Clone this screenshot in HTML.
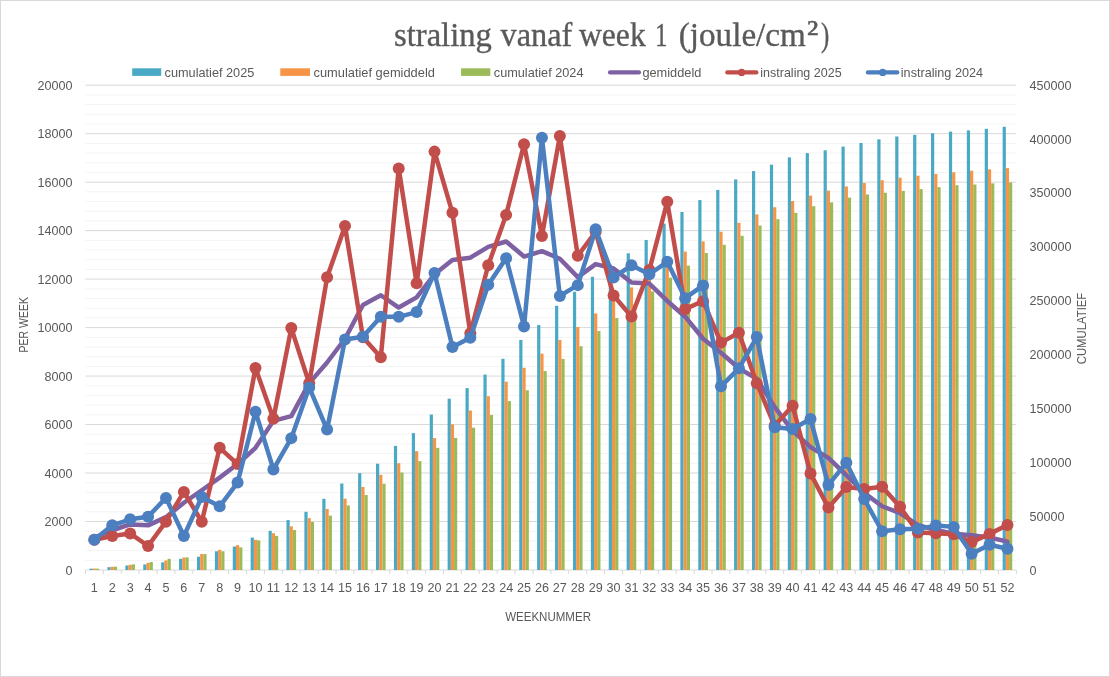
<!DOCTYPE html>
<html lang="nl">
<head>
<meta charset="utf-8">
<title>straling vanaf week 1 (joule/cm²)</title>
<style>
html,body{margin:0;padding:0;background:#fff;}
body{width:1110px;height:677px;overflow:hidden;}
svg{display:block;}
.t{font-family:"Liberation Sans",sans-serif;font-size:12.6px;fill:#595959;}
.ttl{font-family:"Liberation Serif",serif;font-size:33px;fill:#595959;stroke:#595959;stroke-width:0.35px;}
</style>
</head>
<body>
<svg width="1110" height="677" viewBox="0 0 1110 677">
<rect x="0" y="0" width="1110" height="677" fill="#ffffff"/>
<rect x="0.5" y="0.5" width="1109" height="676" fill="none" stroke="#d9d9d9" stroke-width="1"/>
<g stroke="#f3f3f3" stroke-width="1">
<line x1="85.4" y1="560.30" x2="1016.4" y2="560.30"/>
<line x1="85.4" y1="550.61" x2="1016.4" y2="550.61"/>
<line x1="85.4" y1="540.91" x2="1016.4" y2="540.91"/>
<line x1="85.4" y1="531.22" x2="1016.4" y2="531.22"/>
<line x1="85.4" y1="511.82" x2="1016.4" y2="511.82"/>
<line x1="85.4" y1="502.13" x2="1016.4" y2="502.13"/>
<line x1="85.4" y1="492.43" x2="1016.4" y2="492.43"/>
<line x1="85.4" y1="482.74" x2="1016.4" y2="482.74"/>
<line x1="85.4" y1="463.34" x2="1016.4" y2="463.34"/>
<line x1="85.4" y1="453.65" x2="1016.4" y2="453.65"/>
<line x1="85.4" y1="443.95" x2="1016.4" y2="443.95"/>
<line x1="85.4" y1="434.26" x2="1016.4" y2="434.26"/>
<line x1="85.4" y1="414.86" x2="1016.4" y2="414.86"/>
<line x1="85.4" y1="405.17" x2="1016.4" y2="405.17"/>
<line x1="85.4" y1="395.47" x2="1016.4" y2="395.47"/>
<line x1="85.4" y1="385.78" x2="1016.4" y2="385.78"/>
<line x1="85.4" y1="366.38" x2="1016.4" y2="366.38"/>
<line x1="85.4" y1="356.69" x2="1016.4" y2="356.69"/>
<line x1="85.4" y1="346.99" x2="1016.4" y2="346.99"/>
<line x1="85.4" y1="337.30" x2="1016.4" y2="337.30"/>
<line x1="85.4" y1="317.90" x2="1016.4" y2="317.90"/>
<line x1="85.4" y1="308.21" x2="1016.4" y2="308.21"/>
<line x1="85.4" y1="298.51" x2="1016.4" y2="298.51"/>
<line x1="85.4" y1="288.82" x2="1016.4" y2="288.82"/>
<line x1="85.4" y1="269.42" x2="1016.4" y2="269.42"/>
<line x1="85.4" y1="259.73" x2="1016.4" y2="259.73"/>
<line x1="85.4" y1="250.03" x2="1016.4" y2="250.03"/>
<line x1="85.4" y1="240.34" x2="1016.4" y2="240.34"/>
<line x1="85.4" y1="220.94" x2="1016.4" y2="220.94"/>
<line x1="85.4" y1="211.25" x2="1016.4" y2="211.25"/>
<line x1="85.4" y1="201.55" x2="1016.4" y2="201.55"/>
<line x1="85.4" y1="191.86" x2="1016.4" y2="191.86"/>
<line x1="85.4" y1="172.46" x2="1016.4" y2="172.46"/>
<line x1="85.4" y1="162.77" x2="1016.4" y2="162.77"/>
<line x1="85.4" y1="153.07" x2="1016.4" y2="153.07"/>
<line x1="85.4" y1="143.38" x2="1016.4" y2="143.38"/>
<line x1="85.4" y1="123.98" x2="1016.4" y2="123.98"/>
<line x1="85.4" y1="114.29" x2="1016.4" y2="114.29"/>
<line x1="85.4" y1="104.59" x2="1016.4" y2="104.59"/>
<line x1="85.4" y1="94.90" x2="1016.4" y2="94.90"/>
</g>
<g stroke="#d9d9d9" stroke-width="1">
<line x1="85.4" y1="570.00" x2="1016.4" y2="570.00"/>
<line x1="85.4" y1="521.52" x2="1016.4" y2="521.52"/>
<line x1="85.4" y1="473.04" x2="1016.4" y2="473.04"/>
<line x1="85.4" y1="424.56" x2="1016.4" y2="424.56"/>
<line x1="85.4" y1="376.08" x2="1016.4" y2="376.08"/>
<line x1="85.4" y1="327.60" x2="1016.4" y2="327.60"/>
<line x1="85.4" y1="279.12" x2="1016.4" y2="279.12"/>
<line x1="85.4" y1="230.64" x2="1016.4" y2="230.64"/>
<line x1="85.4" y1="182.16" x2="1016.4" y2="182.16"/>
<line x1="85.4" y1="133.68" x2="1016.4" y2="133.68"/>
<line x1="85.4" y1="85.20" x2="1016.4" y2="85.20"/>
<line x1="85.40" y1="570.0" x2="85.40" y2="574.0"/>
<line x1="103.30" y1="570.0" x2="103.30" y2="574.0"/>
<line x1="121.21" y1="570.0" x2="121.21" y2="574.0"/>
<line x1="139.11" y1="570.0" x2="139.11" y2="574.0"/>
<line x1="157.02" y1="570.0" x2="157.02" y2="574.0"/>
<line x1="174.92" y1="570.0" x2="174.92" y2="574.0"/>
<line x1="192.82" y1="570.0" x2="192.82" y2="574.0"/>
<line x1="210.73" y1="570.0" x2="210.73" y2="574.0"/>
<line x1="228.63" y1="570.0" x2="228.63" y2="574.0"/>
<line x1="246.53" y1="570.0" x2="246.53" y2="574.0"/>
<line x1="264.44" y1="570.0" x2="264.44" y2="574.0"/>
<line x1="282.34" y1="570.0" x2="282.34" y2="574.0"/>
<line x1="300.25" y1="570.0" x2="300.25" y2="574.0"/>
<line x1="318.15" y1="570.0" x2="318.15" y2="574.0"/>
<line x1="336.05" y1="570.0" x2="336.05" y2="574.0"/>
<line x1="353.96" y1="570.0" x2="353.96" y2="574.0"/>
<line x1="371.86" y1="570.0" x2="371.86" y2="574.0"/>
<line x1="389.77" y1="570.0" x2="389.77" y2="574.0"/>
<line x1="407.67" y1="570.0" x2="407.67" y2="574.0"/>
<line x1="425.57" y1="570.0" x2="425.57" y2="574.0"/>
<line x1="443.48" y1="570.0" x2="443.48" y2="574.0"/>
<line x1="461.38" y1="570.0" x2="461.38" y2="574.0"/>
<line x1="479.28" y1="570.0" x2="479.28" y2="574.0"/>
<line x1="497.19" y1="570.0" x2="497.19" y2="574.0"/>
<line x1="515.09" y1="570.0" x2="515.09" y2="574.0"/>
<line x1="533.00" y1="570.0" x2="533.00" y2="574.0"/>
<line x1="550.90" y1="570.0" x2="550.90" y2="574.0"/>
<line x1="568.80" y1="570.0" x2="568.80" y2="574.0"/>
<line x1="586.71" y1="570.0" x2="586.71" y2="574.0"/>
<line x1="604.61" y1="570.0" x2="604.61" y2="574.0"/>
<line x1="622.52" y1="570.0" x2="622.52" y2="574.0"/>
<line x1="640.42" y1="570.0" x2="640.42" y2="574.0"/>
<line x1="658.32" y1="570.0" x2="658.32" y2="574.0"/>
<line x1="676.23" y1="570.0" x2="676.23" y2="574.0"/>
<line x1="694.13" y1="570.0" x2="694.13" y2="574.0"/>
<line x1="712.03" y1="570.0" x2="712.03" y2="574.0"/>
<line x1="729.94" y1="570.0" x2="729.94" y2="574.0"/>
<line x1="747.84" y1="570.0" x2="747.84" y2="574.0"/>
<line x1="765.75" y1="570.0" x2="765.75" y2="574.0"/>
<line x1="783.65" y1="570.0" x2="783.65" y2="574.0"/>
<line x1="801.55" y1="570.0" x2="801.55" y2="574.0"/>
<line x1="819.46" y1="570.0" x2="819.46" y2="574.0"/>
<line x1="837.36" y1="570.0" x2="837.36" y2="574.0"/>
<line x1="855.27" y1="570.0" x2="855.27" y2="574.0"/>
<line x1="873.17" y1="570.0" x2="873.17" y2="574.0"/>
<line x1="891.07" y1="570.0" x2="891.07" y2="574.0"/>
<line x1="908.98" y1="570.0" x2="908.98" y2="574.0"/>
<line x1="926.88" y1="570.0" x2="926.88" y2="574.0"/>
<line x1="944.78" y1="570.0" x2="944.78" y2="574.0"/>
<line x1="962.69" y1="570.0" x2="962.69" y2="574.0"/>
<line x1="980.59" y1="570.0" x2="980.59" y2="574.0"/>
<line x1="998.50" y1="570.0" x2="998.50" y2="574.0"/>
<line x1="1016.40" y1="570.0" x2="1016.40" y2="574.0"/>
</g>
<g fill="#4aa9c4">
<rect x="89.55" y="568.65" width="3.20" height="1.35"/>
<rect x="107.46" y="567.15" width="3.20" height="2.85"/>
<rect x="125.36" y="565.52" width="3.20" height="4.48"/>
<rect x="143.26" y="564.45" width="3.20" height="5.55"/>
<rect x="161.17" y="562.30" width="3.20" height="7.70"/>
<rect x="179.07" y="558.84" width="3.20" height="11.16"/>
<rect x="196.97" y="556.69" width="3.20" height="13.31"/>
<rect x="214.88" y="551.26" width="3.20" height="18.74"/>
<rect x="232.78" y="546.55" width="3.20" height="23.45"/>
<rect x="250.69" y="537.57" width="3.20" height="32.43"/>
<rect x="268.59" y="530.85" width="3.20" height="39.15"/>
<rect x="286.49" y="520.09" width="3.20" height="49.91"/>
<rect x="304.40" y="511.80" width="3.20" height="58.20"/>
<rect x="322.30" y="498.79" width="3.20" height="71.21"/>
<rect x="340.21" y="483.51" width="3.20" height="86.49"/>
<rect x="358.11" y="473.16" width="3.20" height="96.84"/>
<rect x="376.01" y="463.70" width="3.20" height="106.30"/>
<rect x="393.92" y="445.86" width="3.20" height="124.14"/>
<rect x="411.82" y="433.12" width="3.20" height="136.88"/>
<rect x="429.72" y="414.52" width="3.20" height="155.48"/>
<rect x="447.63" y="398.65" width="3.20" height="171.35"/>
<rect x="465.53" y="388.13" width="3.20" height="181.87"/>
<rect x="483.44" y="374.59" width="3.20" height="195.41"/>
<rect x="501.34" y="358.80" width="3.20" height="211.20"/>
<rect x="519.24" y="339.88" width="3.20" height="230.12"/>
<rect x="537.15" y="325.04" width="3.20" height="244.96"/>
<rect x="555.05" y="305.75" width="3.20" height="264.25"/>
<rect x="572.96" y="291.78" width="3.20" height="278.22"/>
<rect x="590.86" y="276.75" width="3.20" height="293.25"/>
<rect x="608.76" y="264.56" width="3.20" height="305.44"/>
<rect x="626.67" y="253.29" width="3.20" height="316.71"/>
<rect x="644.57" y="239.95" width="3.20" height="330.05"/>
<rect x="662.48" y="223.59" width="3.20" height="346.41"/>
<rect x="680.38" y="211.98" width="3.20" height="358.02"/>
<rect x="698.28" y="200.04" width="3.20" height="369.96"/>
<rect x="716.19" y="189.93" width="3.20" height="380.07"/>
<rect x="734.09" y="179.38" width="3.20" height="390.62"/>
<rect x="751.99" y="171.08" width="3.20" height="398.92"/>
<rect x="769.90" y="164.67" width="3.20" height="405.33"/>
<rect x="787.80" y="157.37" width="3.20" height="412.63"/>
<rect x="805.71" y="153.08" width="3.20" height="416.92"/>
<rect x="823.61" y="150.30" width="3.20" height="419.70"/>
<rect x="841.51" y="146.62" width="3.20" height="423.38"/>
<rect x="859.42" y="143.02" width="3.20" height="426.98"/>
<rect x="877.32" y="139.32" width="3.20" height="430.68"/>
<rect x="895.23" y="136.51" width="3.20" height="433.49"/>
<rect x="913.13" y="134.85" width="3.20" height="435.15"/>
<rect x="931.03" y="133.22" width="3.20" height="436.78"/>
<rect x="948.94" y="131.64" width="3.20" height="438.36"/>
<rect x="966.84" y="130.40" width="3.20" height="439.60"/>
<rect x="984.74" y="128.80" width="3.20" height="441.20"/>
<rect x="1002.65" y="126.79" width="3.20" height="443.21"/>
</g>
<g fill="#f59545">
<rect x="92.75" y="568.56" width="3.20" height="1.44"/>
<rect x="110.66" y="566.80" width="3.20" height="3.20"/>
<rect x="128.56" y="564.79" width="3.20" height="5.21"/>
<rect x="146.46" y="562.81" width="3.20" height="7.19"/>
<rect x="164.37" y="560.47" width="3.20" height="9.53"/>
<rect x="182.27" y="557.50" width="3.20" height="12.50"/>
<rect x="200.18" y="553.97" width="3.20" height="16.03"/>
<rect x="218.08" y="549.88" width="3.20" height="20.12"/>
<rect x="235.98" y="545.20" width="3.20" height="24.80"/>
<rect x="253.89" y="539.79" width="3.20" height="30.21"/>
<rect x="271.79" y="533.19" width="3.20" height="36.81"/>
<rect x="289.69" y="526.38" width="3.20" height="43.62"/>
<rect x="307.60" y="518.11" width="3.20" height="51.89"/>
<rect x="325.50" y="508.93" width="3.20" height="61.07"/>
<rect x="343.41" y="498.70" width="3.20" height="71.30"/>
<rect x="361.31" y="486.97" width="3.20" height="83.03"/>
<rect x="379.21" y="474.82" width="3.20" height="95.18"/>
<rect x="397.12" y="463.21" width="3.20" height="106.79"/>
<rect x="415.02" y="451.15" width="3.20" height="118.85"/>
<rect x="432.92" y="438.06" width="3.20" height="131.94"/>
<rect x="450.83" y="424.34" width="3.20" height="145.66"/>
<rect x="468.73" y="410.53" width="3.20" height="159.47"/>
<rect x="486.64" y="396.23" width="3.20" height="173.77"/>
<rect x="504.54" y="381.69" width="3.20" height="188.31"/>
<rect x="522.44" y="367.83" width="3.20" height="202.17"/>
<rect x="540.35" y="353.72" width="3.20" height="216.28"/>
<rect x="558.25" y="339.95" width="3.20" height="230.05"/>
<rect x="576.16" y="326.99" width="3.20" height="243.01"/>
<rect x="594.06" y="313.46" width="3.20" height="256.54"/>
<rect x="611.96" y="300.12" width="3.20" height="269.88"/>
<rect x="629.87" y="287.40" width="3.20" height="282.60"/>
<rect x="647.77" y="274.73" width="3.20" height="295.27"/>
<rect x="665.67" y="262.82" width="3.20" height="307.18"/>
<rect x="683.58" y="251.61" width="3.20" height="318.39"/>
<rect x="701.48" y="241.38" width="3.20" height="328.62"/>
<rect x="719.39" y="231.77" width="3.20" height="338.23"/>
<rect x="737.29" y="222.85" width="3.20" height="347.15"/>
<rect x="755.19" y="214.39" width="3.20" height="355.61"/>
<rect x="773.10" y="207.18" width="3.20" height="362.82"/>
<rect x="791.00" y="201.03" width="3.20" height="368.97"/>
<rect x="808.91" y="195.59" width="3.20" height="374.41"/>
<rect x="826.81" y="190.63" width="3.20" height="379.37"/>
<rect x="844.71" y="186.43" width="3.20" height="383.57"/>
<rect x="862.62" y="183.02" width="3.20" height="386.98"/>
<rect x="880.52" y="180.20" width="3.20" height="389.80"/>
<rect x="898.42" y="177.68" width="3.20" height="392.32"/>
<rect x="916.33" y="175.70" width="3.20" height="394.30"/>
<rect x="934.23" y="173.93" width="3.20" height="396.07"/>
<rect x="952.14" y="172.32" width="3.20" height="397.68"/>
<rect x="970.04" y="170.79" width="3.20" height="399.21"/>
<rect x="987.94" y="169.35" width="3.20" height="400.65"/>
<rect x="1005.85" y="168.09" width="3.20" height="401.91"/>
</g>
<g fill="#9bbb59">
<rect x="95.95" y="568.65" width="3.20" height="1.35"/>
<rect x="113.86" y="566.67" width="3.20" height="3.33"/>
<rect x="131.76" y="564.42" width="3.20" height="5.58"/>
<rect x="149.66" y="562.05" width="3.20" height="7.95"/>
<rect x="167.57" y="558.84" width="3.20" height="11.16"/>
<rect x="185.47" y="557.33" width="3.20" height="12.67"/>
<rect x="203.38" y="554.09" width="3.20" height="15.91"/>
<rect x="221.28" y="551.26" width="3.20" height="18.74"/>
<rect x="239.18" y="547.38" width="3.20" height="22.62"/>
<rect x="257.09" y="540.35" width="3.20" height="29.65"/>
<rect x="274.99" y="535.87" width="3.20" height="34.13"/>
<rect x="292.89" y="530.01" width="3.20" height="39.99"/>
<rect x="310.80" y="521.90" width="3.20" height="48.10"/>
<rect x="328.70" y="515.65" width="3.20" height="54.35"/>
<rect x="346.61" y="505.41" width="3.20" height="64.59"/>
<rect x="364.51" y="495.04" width="3.20" height="74.96"/>
<rect x="382.41" y="483.79" width="3.20" height="86.21"/>
<rect x="400.32" y="472.54" width="3.20" height="97.46"/>
<rect x="418.22" y="461.08" width="3.20" height="108.92"/>
<rect x="436.12" y="447.88" width="3.20" height="122.12"/>
<rect x="454.03" y="437.97" width="3.20" height="132.03"/>
<rect x="471.93" y="427.64" width="3.20" height="142.36"/>
<rect x="489.84" y="414.96" width="3.20" height="155.04"/>
<rect x="507.74" y="401.10" width="3.20" height="168.90"/>
<rect x="525.64" y="390.27" width="3.20" height="179.73"/>
<rect x="543.55" y="371.06" width="3.20" height="198.94"/>
<rect x="561.45" y="358.88" width="3.20" height="211.12"/>
<rect x="579.36" y="346.22" width="3.20" height="223.78"/>
<rect x="597.26" y="331.08" width="3.20" height="238.92"/>
<rect x="615.16" y="318.08" width="3.20" height="251.92"/>
<rect x="633.07" y="304.54" width="3.20" height="265.46"/>
<rect x="650.97" y="291.40" width="3.20" height="278.60"/>
<rect x="668.88" y="277.70" width="3.20" height="292.30"/>
<rect x="686.78" y="265.62" width="3.20" height="304.38"/>
<rect x="704.68" y="252.97" width="3.20" height="317.03"/>
<rect x="722.59" y="244.81" width="3.20" height="325.19"/>
<rect x="740.49" y="235.84" width="3.20" height="334.16"/>
<rect x="758.39" y="225.49" width="3.20" height="344.51"/>
<rect x="776.30" y="219.14" width="3.20" height="350.86"/>
<rect x="794.20" y="212.87" width="3.20" height="357.13"/>
<rect x="812.11" y="206.17" width="3.20" height="363.83"/>
<rect x="830.01" y="202.38" width="3.20" height="367.62"/>
<rect x="847.91" y="197.62" width="3.20" height="372.38"/>
<rect x="865.82" y="194.47" width="3.20" height="375.53"/>
<rect x="883.72" y="192.75" width="3.20" height="377.25"/>
<rect x="901.62" y="190.94" width="3.20" height="379.06"/>
<rect x="919.53" y="189.11" width="3.20" height="380.89"/>
<rect x="937.43" y="187.14" width="3.20" height="382.86"/>
<rect x="955.34" y="185.22" width="3.20" height="384.78"/>
<rect x="973.24" y="184.50" width="3.20" height="385.50"/>
<rect x="991.14" y="183.37" width="3.20" height="386.63"/>
<rect x="1009.05" y="182.43" width="3.20" height="387.57"/>
</g>
<polyline points="94.35,537.52 112.26,530.25 130.16,524.43 148.06,525.33 165.97,517.16 183.87,502.73 201.78,490.25 219.68,477.65 237.58,464.07 255.49,447.83 273.39,420.88 291.29,416.08 309.20,383.11 327.10,362.51 345.01,338.75 362.91,304.94 380.81,295.24 398.72,307.58 416.62,297.40 434.52,274.27 452.43,259.97 470.33,257.69 488.24,246.88 506.14,241.48 524.04,256.58 541.95,251.17 559.85,258.76 577.76,277.18 595.66,264.09 613.56,268.45 631.47,282.51 649.37,283.60 667.27,300.94 685.18,316.69 703.08,338.75 720.99,352.81 738.89,368.32 756.79,378.75 774.70,407.11 792.60,430.86 810.51,447.10 828.41,457.89 846.31,475.22 864.22,492.92 882.12,506.25 900.02,513.04 917.93,525.16 935.83,530.00 953.74,533.64 971.64,535.34 989.54,537.52 1007.45,541.64" fill="none" stroke="#7e61a3" stroke-width="4.5" stroke-linejoin="round" stroke-linecap="round"/>
<polyline points="94.35,539.70 112.26,536.06 130.16,533.40 148.06,546.00 165.97,521.69 183.87,491.95 201.78,521.69 219.68,447.83 237.58,464.07 255.49,367.91 273.39,418.74 291.29,328.08 309.20,383.35 327.10,277.30 345.01,226.08 362.91,337.30 380.81,357.17 398.72,168.46 416.62,283.36 434.52,151.62 452.43,212.80 470.33,333.34 488.24,265.30 506.14,214.88 524.04,144.27 541.95,235.92 559.85,136.06 577.76,255.75 595.66,231.85 613.56,295.53 631.47,316.50 649.37,269.91 667.27,201.79 685.18,308.94 703.08,301.18 720.99,342.63 738.89,332.69 756.79,383.23 774.70,425.77 792.60,405.65 810.51,473.45 828.41,507.61 846.31,487.10 864.22,488.92 882.12,486.86 900.02,506.85 917.93,532.57 935.83,533.37 953.74,534.37 971.64,542.12 989.54,533.88 1007.45,524.94" fill="none" stroke="#c24e4b" stroke-width="4.5" stroke-linejoin="round" stroke-linecap="round"/>
<g fill="#c24e4b">
<circle cx="94.35" cy="539.70" r="6.0"/>
<circle cx="112.26" cy="536.06" r="6.0"/>
<circle cx="130.16" cy="533.40" r="6.0"/>
<circle cx="148.06" cy="546.00" r="6.0"/>
<circle cx="165.97" cy="521.69" r="6.0"/>
<circle cx="183.87" cy="491.95" r="6.0"/>
<circle cx="201.78" cy="521.69" r="6.0"/>
<circle cx="219.68" cy="447.83" r="6.0"/>
<circle cx="237.58" cy="464.07" r="6.0"/>
<circle cx="255.49" cy="367.91" r="6.0"/>
<circle cx="273.39" cy="418.74" r="6.0"/>
<circle cx="291.29" cy="328.08" r="6.0"/>
<circle cx="309.20" cy="383.35" r="6.0"/>
<circle cx="327.10" cy="277.30" r="6.0"/>
<circle cx="345.01" cy="226.08" r="6.0"/>
<circle cx="362.91" cy="337.30" r="6.0"/>
<circle cx="380.81" cy="357.17" r="6.0"/>
<circle cx="398.72" cy="168.46" r="6.0"/>
<circle cx="416.62" cy="283.36" r="6.0"/>
<circle cx="434.52" cy="151.62" r="6.0"/>
<circle cx="452.43" cy="212.80" r="6.0"/>
<circle cx="470.33" cy="333.34" r="6.0"/>
<circle cx="488.24" cy="265.30" r="6.0"/>
<circle cx="506.14" cy="214.88" r="6.0"/>
<circle cx="524.04" cy="144.27" r="6.0"/>
<circle cx="541.95" cy="235.92" r="6.0"/>
<circle cx="559.85" cy="136.06" r="6.0"/>
<circle cx="577.76" cy="255.75" r="6.0"/>
<circle cx="595.66" cy="231.85" r="6.0"/>
<circle cx="613.56" cy="295.53" r="6.0"/>
<circle cx="631.47" cy="316.50" r="6.0"/>
<circle cx="649.37" cy="269.91" r="6.0"/>
<circle cx="667.27" cy="201.79" r="6.0"/>
<circle cx="685.18" cy="308.94" r="6.0"/>
<circle cx="703.08" cy="301.18" r="6.0"/>
<circle cx="720.99" cy="342.63" r="6.0"/>
<circle cx="738.89" cy="332.69" r="6.0"/>
<circle cx="756.79" cy="383.23" r="6.0"/>
<circle cx="774.70" cy="425.77" r="6.0"/>
<circle cx="792.60" cy="405.65" r="6.0"/>
<circle cx="810.51" cy="473.45" r="6.0"/>
<circle cx="828.41" cy="507.61" r="6.0"/>
<circle cx="846.31" cy="487.10" r="6.0"/>
<circle cx="864.22" cy="488.92" r="6.0"/>
<circle cx="882.12" cy="486.86" r="6.0"/>
<circle cx="900.02" cy="506.85" r="6.0"/>
<circle cx="917.93" cy="532.57" r="6.0"/>
<circle cx="935.83" cy="533.37" r="6.0"/>
<circle cx="953.74" cy="534.37" r="6.0"/>
<circle cx="971.64" cy="542.12" r="6.0"/>
<circle cx="989.54" cy="533.88" r="6.0"/>
<circle cx="1007.45" cy="524.94" r="6.0"/>
</g>
<polyline points="94.35,539.70 112.26,525.33 130.16,519.34 148.06,516.67 165.97,497.89 183.87,536.06 201.78,497.04 219.68,506.37 237.58,482.59 255.49,411.79 273.39,469.40 291.29,438.13 309.20,387.38 327.10,429.53 345.01,339.48 362.91,336.81 380.81,316.86 398.72,316.86 416.62,312.09 434.52,272.99 452.43,346.99 470.33,337.66 488.24,284.70 506.14,258.13 524.04,326.39 541.95,137.78 559.85,295.94 577.76,285.13 595.66,229.31 613.56,277.59 631.47,265.30 649.37,274.27 667.27,261.79 685.18,298.15 703.08,285.42 720.99,386.29 738.89,368.37 756.79,337.01 774.70,427.23 792.60,428.92 810.51,419.06 828.41,484.92 846.31,462.86 864.22,499.10 882.12,531.26 900.02,529.33 917.93,528.84 935.83,525.59 953.74,526.88 971.64,553.69 989.54,544.74 1007.45,548.81" fill="none" stroke="#4b7fbf" stroke-width="4.5" stroke-linejoin="round" stroke-linecap="round"/>
<g fill="#4b7fbf">
<circle cx="94.35" cy="539.70" r="6.0"/>
<circle cx="112.26" cy="525.33" r="6.0"/>
<circle cx="130.16" cy="519.34" r="6.0"/>
<circle cx="148.06" cy="516.67" r="6.0"/>
<circle cx="165.97" cy="497.89" r="6.0"/>
<circle cx="183.87" cy="536.06" r="6.0"/>
<circle cx="201.78" cy="497.04" r="6.0"/>
<circle cx="219.68" cy="506.37" r="6.0"/>
<circle cx="237.58" cy="482.59" r="6.0"/>
<circle cx="255.49" cy="411.79" r="6.0"/>
<circle cx="273.39" cy="469.40" r="6.0"/>
<circle cx="291.29" cy="438.13" r="6.0"/>
<circle cx="309.20" cy="387.38" r="6.0"/>
<circle cx="327.10" cy="429.53" r="6.0"/>
<circle cx="345.01" cy="339.48" r="6.0"/>
<circle cx="362.91" cy="336.81" r="6.0"/>
<circle cx="380.81" cy="316.86" r="6.0"/>
<circle cx="398.72" cy="316.86" r="6.0"/>
<circle cx="416.62" cy="312.09" r="6.0"/>
<circle cx="434.52" cy="272.99" r="6.0"/>
<circle cx="452.43" cy="346.99" r="6.0"/>
<circle cx="470.33" cy="337.66" r="6.0"/>
<circle cx="488.24" cy="284.70" r="6.0"/>
<circle cx="506.14" cy="258.13" r="6.0"/>
<circle cx="524.04" cy="326.39" r="6.0"/>
<circle cx="541.95" cy="137.78" r="6.0"/>
<circle cx="559.85" cy="295.94" r="6.0"/>
<circle cx="577.76" cy="285.13" r="6.0"/>
<circle cx="595.66" cy="229.31" r="6.0"/>
<circle cx="613.56" cy="277.59" r="6.0"/>
<circle cx="631.47" cy="265.30" r="6.0"/>
<circle cx="649.37" cy="274.27" r="6.0"/>
<circle cx="667.27" cy="261.79" r="6.0"/>
<circle cx="685.18" cy="298.15" r="6.0"/>
<circle cx="703.08" cy="285.42" r="6.0"/>
<circle cx="720.99" cy="386.29" r="6.0"/>
<circle cx="738.89" cy="368.37" r="6.0"/>
<circle cx="756.79" cy="337.01" r="6.0"/>
<circle cx="774.70" cy="427.23" r="6.0"/>
<circle cx="792.60" cy="428.92" r="6.0"/>
<circle cx="810.51" cy="419.06" r="6.0"/>
<circle cx="828.41" cy="484.92" r="6.0"/>
<circle cx="846.31" cy="462.86" r="6.0"/>
<circle cx="864.22" cy="499.10" r="6.0"/>
<circle cx="882.12" cy="531.26" r="6.0"/>
<circle cx="900.02" cy="529.33" r="6.0"/>
<circle cx="917.93" cy="528.84" r="6.0"/>
<circle cx="935.83" cy="525.59" r="6.0"/>
<circle cx="953.74" cy="526.88" r="6.0"/>
<circle cx="971.64" cy="553.69" r="6.0"/>
<circle cx="989.54" cy="544.74" r="6.0"/>
<circle cx="1007.45" cy="548.81" r="6.0"/>
</g>
<g class="t" text-anchor="end">
<text x="72.6" y="574.50">0</text>
<text x="72.6" y="526.02">2000</text>
<text x="72.6" y="477.54">4000</text>
<text x="72.6" y="429.06">6000</text>
<text x="72.6" y="380.58">8000</text>
<text x="72.6" y="332.10">10000</text>
<text x="72.6" y="283.62">12000</text>
<text x="72.6" y="235.14">14000</text>
<text x="72.6" y="186.66">16000</text>
<text x="72.6" y="138.18">18000</text>
<text x="72.6" y="89.70">20000</text>
</g>
<g class="t" text-anchor="start">
<text x="1029.6" y="574.50">0</text>
<text x="1029.6" y="520.63">50000</text>
<text x="1029.6" y="466.77">100000</text>
<text x="1029.6" y="412.90">150000</text>
<text x="1029.6" y="359.03">200000</text>
<text x="1029.6" y="305.17">250000</text>
<text x="1029.6" y="251.30">300000</text>
<text x="1029.6" y="197.43">350000</text>
<text x="1029.6" y="143.57">400000</text>
<text x="1029.6" y="89.70">450000</text>
</g>
<g class="t" text-anchor="middle">
<text x="94.35" y="592">1</text>
<text x="112.26" y="592">2</text>
<text x="130.16" y="592">3</text>
<text x="148.06" y="592">4</text>
<text x="165.97" y="592">5</text>
<text x="183.87" y="592">6</text>
<text x="201.78" y="592">7</text>
<text x="219.68" y="592">8</text>
<text x="237.58" y="592">9</text>
<text x="255.49" y="592">10</text>
<text x="273.39" y="592">11</text>
<text x="291.29" y="592">12</text>
<text x="309.20" y="592">13</text>
<text x="327.10" y="592">14</text>
<text x="345.01" y="592">15</text>
<text x="362.91" y="592">16</text>
<text x="380.81" y="592">17</text>
<text x="398.72" y="592">18</text>
<text x="416.62" y="592">19</text>
<text x="434.52" y="592">20</text>
<text x="452.43" y="592">21</text>
<text x="470.33" y="592">22</text>
<text x="488.24" y="592">23</text>
<text x="506.14" y="592">24</text>
<text x="524.04" y="592">25</text>
<text x="541.95" y="592">26</text>
<text x="559.85" y="592">27</text>
<text x="577.76" y="592">28</text>
<text x="595.66" y="592">29</text>
<text x="613.56" y="592">30</text>
<text x="631.47" y="592">31</text>
<text x="649.37" y="592">32</text>
<text x="667.27" y="592">33</text>
<text x="685.18" y="592">34</text>
<text x="703.08" y="592">35</text>
<text x="720.99" y="592">36</text>
<text x="738.89" y="592">37</text>
<text x="756.79" y="592">38</text>
<text x="774.70" y="592">39</text>
<text x="792.60" y="592">40</text>
<text x="810.51" y="592">41</text>
<text x="828.41" y="592">42</text>
<text x="846.31" y="592">43</text>
<text x="864.22" y="592">44</text>
<text x="882.12" y="592">45</text>
<text x="900.02" y="592">46</text>
<text x="917.93" y="592">47</text>
<text x="935.83" y="592">48</text>
<text x="953.74" y="592">49</text>
<text x="971.64" y="592">50</text>
<text x="989.54" y="592">51</text>
<text x="1007.45" y="592">52</text>
</g>
<text class="t" text-anchor="middle" x="548.1" y="621.2" textLength="85.8" lengthAdjust="spacingAndGlyphs">WEEKNUMMER</text>
<text class="t" text-anchor="middle" transform="translate(28.3,324.7) rotate(-90)" textLength="55.4" lengthAdjust="spacingAndGlyphs">PER WEEK</text>
<text class="t" text-anchor="middle" transform="translate(1085.6,328.5) rotate(-90)" textLength="71.5" lengthAdjust="spacingAndGlyphs">CUMULATIEF</text>
<text class="ttl" y="45.7"><tspan x="394.1" textLength="97.7" lengthAdjust="spacingAndGlyphs">straling</tspan> <tspan x="500.6" textLength="71.8" lengthAdjust="spacingAndGlyphs">vanaf</tspan> <tspan x="579.0" textLength="66.7" lengthAdjust="spacingAndGlyphs">week</tspan> <tspan x="655.0" textLength="12.5" lengthAdjust="spacingAndGlyphs">1</tspan> <tspan x="678.8" textLength="127" lengthAdjust="spacingAndGlyphs">(joule/cm</tspan><tspan x="806.7" dy="-1.8" textLength="11.7" lengthAdjust="spacingAndGlyphs">²</tspan><tspan x="821" dy="1.8" textLength="8.3" lengthAdjust="spacingAndGlyphs">)</tspan></text>
<rect x="132.2" y="68.3" width="29" height="7.6" fill="#4aa9c4"/>
<text class="t" x="164.6" y="76.5" textLength="89.7" lengthAdjust="spacingAndGlyphs">cumulatief 2025</text>
<rect x="280.3" y="68.3" width="29.7" height="7.6" fill="#f59545"/>
<text class="t" x="313.5" y="76.5" textLength="121.4" lengthAdjust="spacingAndGlyphs">cumulatief gemiddeld</text>
<rect x="461.1" y="68.3" width="29.2" height="7.6" fill="#9bbb59"/>
<text class="t" x="493.8" y="76.5" textLength="89.7" lengthAdjust="spacingAndGlyphs">cumulatief 2024</text>
<line x1="610" y1="72.4" x2="639" y2="72.4" stroke="#7e61a3" stroke-width="4.2" stroke-linecap="round"/>
<text class="t" x="642.4" y="76.5" textLength="59.0" lengthAdjust="spacingAndGlyphs">gemiddeld</text>
<line x1="727.3" y1="72.4" x2="756.4" y2="72.4" stroke="#c24e4b" stroke-width="4.2" stroke-linecap="round"/>
<circle cx="741.6" cy="72.4" r="3.6" fill="#c24e4b"/>
<text class="t" x="760.3" y="76.5" textLength="81.3" lengthAdjust="spacingAndGlyphs">instraling 2025</text>
<line x1="867.9" y1="72.4" x2="897.3" y2="72.4" stroke="#4b7fbf" stroke-width="4.2" stroke-linecap="round"/>
<circle cx="882.7" cy="72.4" r="3.6" fill="#4b7fbf"/>
<text class="t" x="900.8" y="76.5" textLength="82.2" lengthAdjust="spacingAndGlyphs">instraling 2024</text>
</svg>
</body>
</html>
